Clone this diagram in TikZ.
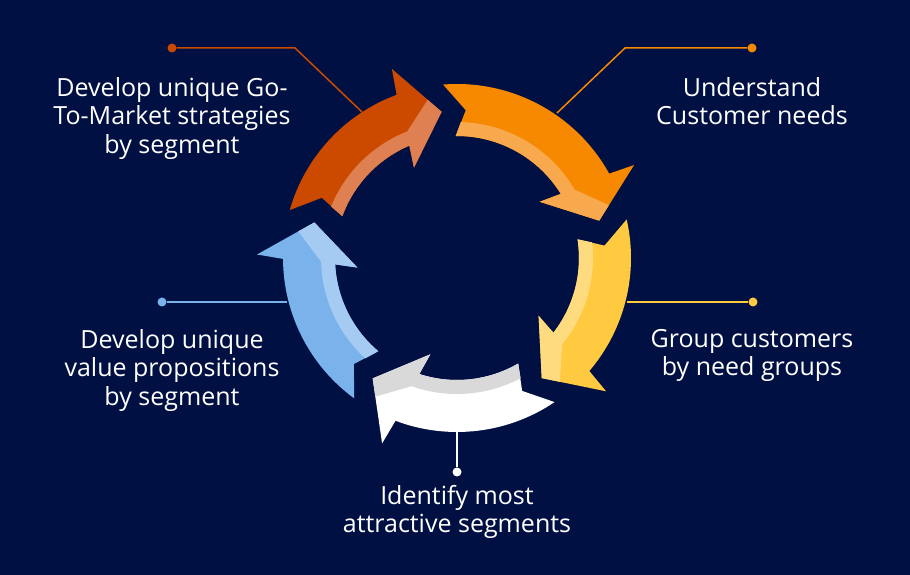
\documentclass[tikz,border=0pt]{standalone}
\usepackage{fontspec}
\setmainfont{Open Sans}
\usetikzlibrary{calc}
\definecolor{navy}{RGB}{1,16,66}
\definecolor{redA}{RGB}{204,74,0}
\definecolor{redB}{RGB}{222,128,82}
\definecolor{orangeA}{RGB}{247,137,0}
\definecolor{orangeB}{RGB}{249,169,77}
\definecolor{yellowA}{RGB}{255,201,64}
\definecolor{yellowB}{RGB}{255,219,128}
\definecolor{whiteA}{RGB}{255,255,255}
\definecolor{whiteB}{RGB}{217,217,217}
\definecolor{blueA}{RGB}{122,178,235}
\definecolor{blueB}{RGB}{165,203,243}
\begin{document}
\begin{tikzpicture}[x=1pt,y=1pt,
  lbl/.style={text=white,align=center,inner sep=0pt,anchor=north,font=\fontsize{25}{28.5}\selectfont},
  dot/.style={circle,fill=#1,inner sep=0pt,minimum size=9pt},
  leader/.style={draw=#1,line width=1.5pt}]
\fill[navy] (0,0) rectangle (910,575);
\useasboundingbox (0,0) rectangle (910,575);
\node[lbl] (gtm) at (172,498) {Develop unique Go-\\To-Market strategies\\by segment};
\node[lbl] (understand) at (752,498) {Understand\\Customer needs};
\node[lbl] (group) at (752,246) {Group customers\\by need groups};
\node[lbl] (identify) at (457,90) {Identify most\\attractive segments};
\node[lbl] (valueprop) at (172,246) {Develop unique\\value propositions\\by segment};
\node[dot=redA] (gtmdot) at (172,527) {};
\node[dot=orangeA] (understanddot) at (752,527) {};
\node[dot=yellowA] (groupdot) at (753,273) {};
\node[dot=whiteA] (identifydot) at (457,103) {};
\node[dot=blueA] (valuepropdot) at (162,273) {};
\coordinate (gtmbend) at (295,527);
\coordinate (understandbend) at (625,527);
\coordinate (gtmedge) at (362,463);
\coordinate (understandedge) at (557,462);
\coordinate (groupedge) at (627,273);
\coordinate (identifyedge) at (457,143);
\coordinate (valuepropedge) at (287,273);
\draw[leader=redA] (gtmdot) -- (gtmbend) -- (gtmedge);
\draw[leader=orangeA] (understanddot) -- (understandbend) -- (understandedge);
\draw[leader=yellowA] (groupdot) -- (groupedge);
\draw[leader=whiteA] (identifydot) -- (identifyedge);
\draw[leader=blueA] (valuepropdot) -- (valuepropedge);
% cycle of arrows: tail angle / tip angle / colours
\begin{scope}[shift={(457,317)}]
\foreach \tailang/\tipang/\main/\light in {164/96/redA/redB, 94.6/14.7/orangeA/orangeB, 12.8/-54.8/yellowA/yellowB, -55.9/-125/whiteA/whiteB, -126.2/-194/blueA/blueB}{
  \fill[\main] (\tailang:174) arc[start angle=\tailang, end angle=\tipang+14.3, radius=174] -- (\tipang+13:200) -- (\tipang:147) -- (\tipang+19.5:100) -- (\tipang+17:122) arc[start angle=\tipang+17, end angle=\tailang-4, radius=122] -- (\tailang-8:148) -- cycle;
  \fill[\light] (\tailang-4:122) -- (\tailang-6.2:136) arc[start angle=\tailang-6.2, end angle=\tipang+15.5, radius=136] -- ($(\tipang+13:200)!0.72!(\tipang:147)$) -- (\tipang:147) -- (\tipang+19.5:100) -- (\tipang+17:122) arc[start angle=\tipang+17, end angle=\tailang-4, radius=122] -- cycle;
}
\end{scope}
\end{tikzpicture}
\end{document}
